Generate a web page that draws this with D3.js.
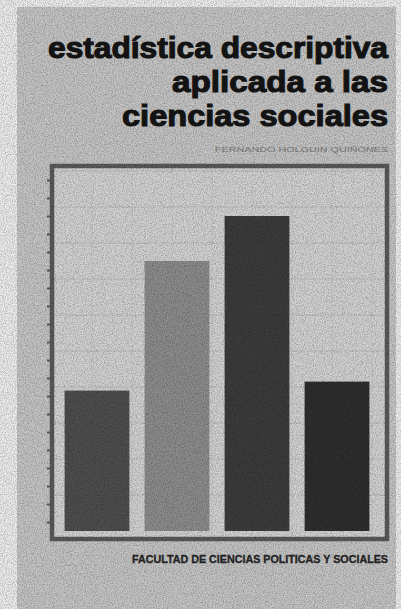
<!DOCTYPE html>
<html>
<head>
<meta charset="utf-8">
<script src="https://cdn.jsdelivr.net/npm/d3@7"></script>
<style>
  body { margin: 0; background: #ececec; }
  svg { display: block; }
</style>
</head>
<body>
<div id="chart"></div>
<script>
// DATA //
var categories = ["A", "B", "C", "D"];
var values = [39, 75, 87.5, 41.5];
var barColors = ["#4e4e4e", "#8c8c8c", "#3c3c3c", "#2e2e2e"];
var titleLines = ["estadística descriptiva", "aplicada a las", "ciencias sociales"];
var author = "FERNANDO HOLGUIN QUIÑONES";
var footer = "FACULTAD DE CIENCIAS POLITICAS Y SOCIALES";
var gridTicks = d3.range(0, 101, 10);

var w = 401, h = 609;

var svg = d3.select("#chart")
  .append("svg")
  .attr("width", w)
  .attr("height", h);

// grain filter to mimic the printed cover
var defs = svg.append("defs");
var grain = defs.append("filter").attr("id", "grain")
  .attr("x", 0).attr("y", 0).attr("width", "100%").attr("height", "100%");
grain.append("feTurbulence")
  .attr("type", "fractalNoise")
  .attr("baseFrequency", 0.9)
  .attr("numOctaves", 2)
  .attr("seed", 4)
  .attr("result", "noise");
grain.append("feColorMatrix")
  .attr("in", "noise")
  .attr("type", "matrix")
  .attr("values", "0 0 0 0 0  0 0 0 0 0  0 0 0 0 0  0 0 0 -1.6 1.0")
  .attr("result", "dots");
grain.append("feComposite")
  .attr("in", "dots").attr("in2", "SourceGraphic").attr("operator", "in");

// page + cover
svg.append("rect").attr("width", w).attr("height", h).attr("fill", "#ececec");
svg.append("rect")
  .attr("x", 17).attr("y", 7)
  .attr("width", 379).attr("height", h - 7)
  .attr("fill", "#c4c4c4");

// title lines, right aligned at 388
var titleX = 388;
var titleSpec = [
  { x0: 48, y: 58 },
  { x0: 172, y: 92 },
  { x0: 122, y: 126 }
];
svg.append("g").selectAll("text")
  .data(titleLines)
  .enter().append("text")
  .attr("x", (d, i) => titleSpec[i].x0)
  .attr("y", (d, i) => titleSpec[i].y)
  .attr("textLength", (d, i) => titleX - titleSpec[i].x0)
  .attr("lengthAdjust", "spacingAndGlyphs")
  .style("font-family", "'Liberation Sans', Arial, sans-serif")
  .style("font-weight", "bold")
  .style("font-size", "29.5px")
  .style("fill", "#151515")
  .style("stroke", "#151515")
  .style("stroke-width", 1.1)
  .text(d => d);

svg.append("text")
  .attr("x", 215).attr("y", 152)
  .attr("textLength", 173)
  .attr("lengthAdjust", "spacingAndGlyphs")
  .style("font-family", "'Liberation Sans', Arial, sans-serif")
  .style("font-size", "8px")
  .style("fill", "#7a7a7a")
  .text(author);

// chart frame
var frame = { x0: 52, y0: 166, x1: 387, y1: 539 };
svg.append("rect")
  .attr("x", frame.x0).attr("y", frame.y0)
  .attr("width", frame.x1 - frame.x0)
  .attr("height", frame.y1 - frame.y0)
  .attr("fill", "#d2d2d2");

var x = d3.scaleBand()
  .domain(categories)
  .range([57, 377])
  .paddingInner(0.19)
  .paddingOuter(0.095);

var y = d3.scaleLinear()
  .domain([0, 100])
  .range([531, 171]);

// faint grid
var grid = svg.append("g").attr("class", "grid");
grid.selectAll("line.h")
  .data(gridTicks.slice(1))
  .enter().append("line")
  .attr("class", "h")
  .attr("x1", frame.x0).attr("x2", frame.x1)
  .attr("y1", d => y(d)).attr("y2", d => y(d))
  .style("stroke", "#9a9a9a")
  .style("stroke-width", 0.8)
  .style("opacity", 0.45);

var vgrid = d3.range(frame.x0 + 40, frame.x1, 40);
grid.selectAll("line.v")
  .data(vgrid)
  .enter().append("line")
  .attr("class", "v")
  .attr("x1", d => d).attr("x2", d => d)
  .attr("y1", frame.y0).attr("y2", frame.y1)
  .style("stroke", "#a0a0a0")
  .style("stroke-width", 0.6)
  .style("opacity", 0.3);

// bars
svg.append("g").selectAll("rect")
  .data(values)
  .enter().append("rect")
  .attr("x", (d, i) => x(categories[i]))
  .attr("y", d => y(d))
  .attr("width", x.bandwidth())
  .attr("height", d => y(0) - y(d))
  .attr("fill", (d, i) => barColors[i]);

// frame border + left tick marks
svg.append("rect")
  .attr("x", frame.x0).attr("y", frame.y0)
  .attr("width", frame.x1 - frame.x0)
  .attr("height", frame.y1 - frame.y0)
  .attr("fill", "none")
  .style("stroke", "#5a5a5a")
  .style("stroke-width", 4.5);

var yAxis = d3.axisLeft(y).tickValues(d3.range(2.5, 100, 5)).tickSize(3).tickFormat("");
svg.append("g")
  .attr("transform", "translate(" + (frame.x0 - 2) + ",0)")
  .call(yAxis)
  .call(g => g.select(".domain").remove())
  .call(g => g.selectAll("line").style("stroke", "#5a5a5a").style("stroke-width", 2));

// footer
svg.append("text")
  .attr("x", 132).attr("y", 563)
  .attr("textLength", 256)
  .attr("lengthAdjust", "spacingAndGlyphs")
  .style("font-family", "'Liberation Sans', Arial, sans-serif")
  .style("font-weight", "bold")
  .style("font-size", "10px")
  .style("fill", "#262626")
  .style("stroke", "#262626")
  .style("stroke-width", 0.3)
  .text(footer);

// grain over everything
svg.append("rect")
  .attr("width", w).attr("height", h)
  .attr("fill", "#606060")
  .attr("filter", "url(#grain)")
  .style("opacity", 0.35)
  .style("pointer-events", "none");
</script>
</body>
</html>
